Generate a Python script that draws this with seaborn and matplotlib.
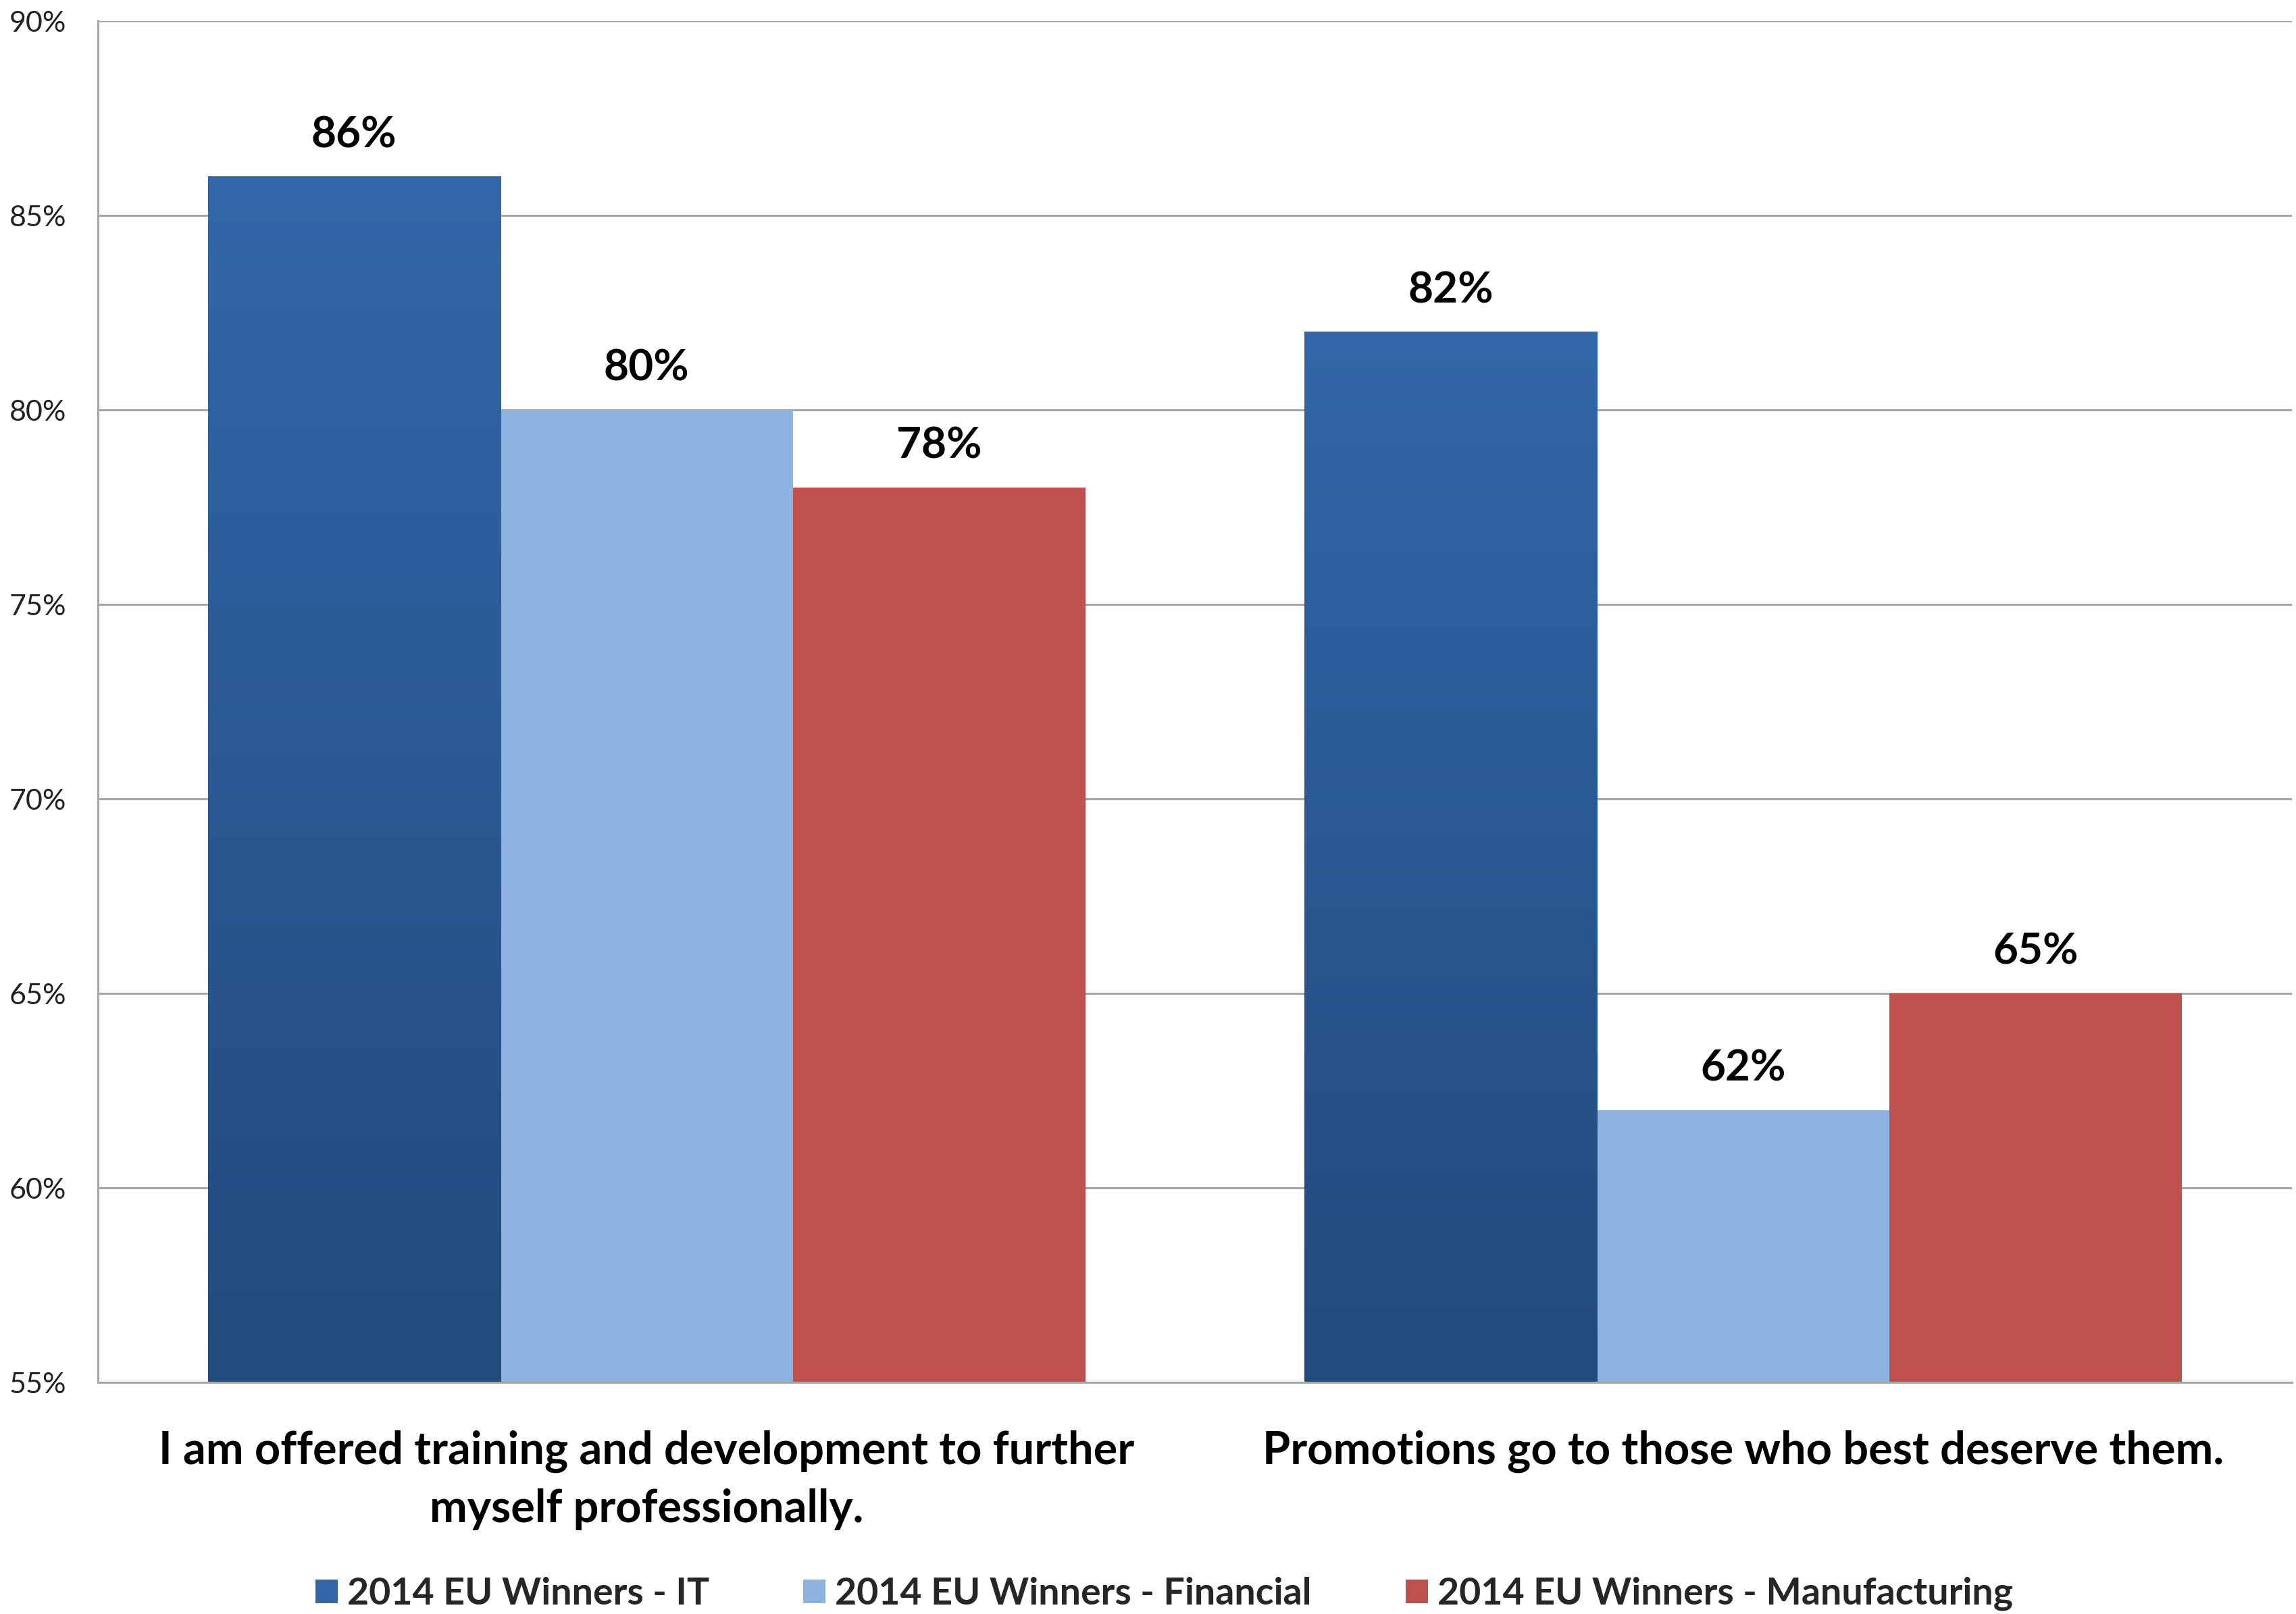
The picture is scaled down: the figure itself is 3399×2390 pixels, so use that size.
import numpy as np
import pandas as pd
import seaborn as sns
import matplotlib.pyplot as plt
from matplotlib.patches import Patch
from matplotlib.colors import LinearSegmentedColormap

statements = [
    "I am offered training and development to further\nmyself professionally.",
    "Promotions go to those who best deserve them.",
]
series = [
    "2014 EU Winners - IT",
    "2014 EU Winners - Financial",
    "2014 EU Winners - Manufacturing",
]
it_values = [86, 82]
financial_values = [80, 62]
manufacturing_values = [78, 65]
y_ticks = [55, 60, 65, 70, 75, 80, 85, 90]

colors = ["#2D5F9E", "#8FB3E1", "#C0504D"]
it_top, it_bottom = "#3267A9", "#224A7C"

df = pd.DataFrame({
    "statement": statements * 3,
    "series": [s for s in series for _ in statements],
    "value": it_values + financial_values + manufacturing_values,
})

sns.set_theme(style="white")
plt.rcParams["font.family"] = ["Lato", "DejaVu Sans"]

fig = plt.figure(figsize=(33.99, 23.90), dpi=100)
ax = fig.add_axes([0.0427, 0.1435, 0.9555, 0.8435])

sns.barplot(data=df, x="statement", y="value", hue="series", hue_order=series,
            order=statements, palette=colors, width=0.8, saturation=1,
            edgecolor="none", linewidth=0, legend=False, ax=ax)

# vertical shading on the IT bars
cmap = LinearSegmentedColormap.from_list("it", [it_bottom, it_top])
grad = np.linspace(0, 1, 256).reshape(-1, 1)
for bar in ax.containers[0]:
    x0, w = bar.get_x(), bar.get_width()
    top = bar.get_height()
    ax.imshow(grad, extent=(x0, x0 + w, 55, top), origin="lower", aspect="auto",
              cmap=cmap, zorder=bar.get_zorder() + 0.1, interpolation="bilinear")
ax.set_ylim(55, 90)
ax.set_xlim(-0.5, 1.5)

# value labels
for container in ax.containers:
    for bar in container:
        v = bar.get_height()
        ax.annotate(f"{v:.0f}%", (bar.get_x() + bar.get_width() / 2, v),
                    xytext=(0, 24), textcoords="offset points",
                    ha="center", va="bottom", fontsize=46, fontweight="bold",
                    color="black")

ax.set_yticks(y_ticks)
ax.set_yticklabels([f"{t}%" for t in y_ticks], fontsize=31, color="#222222")
ax.yaxis.grid(True, color="#A6A6A6", linewidth=2.2)
ax.set_axisbelow(True)
ax.tick_params(axis="y", length=0, pad=34)
ax.tick_params(axis="x", length=0, pad=51)
ax.set_xticks([0, 1])
ax.set_xticklabels(statements, fontsize=48, fontweight="bold", color="black",
                   linespacing=1.45, va="top")
ax.set_xlabel("")
ax.set_ylabel("")

for side in ["top", "right"]:
    ax.spines[side].set_visible(False)
for side in ["left", "bottom"]:
    ax.spines[side].set_color("#A6A6A6")
    ax.spines[side].set_linewidth(2.2)

handles = [Patch(facecolor=c, edgecolor="none") for c in [it_top] + colors[1:]]
fig.legend(handles, series, loc="center", bbox_to_anchor=(0.507, 0.0125),
           ncol=3, frameon=False, prop={"size": 40, "weight": "bold"},
           handlelength=0.6, handleheight=0.6, handletextpad=0.25,
           columnspacing=2.5)

fig.savefig("out.png", dpi=100, facecolor="white")
